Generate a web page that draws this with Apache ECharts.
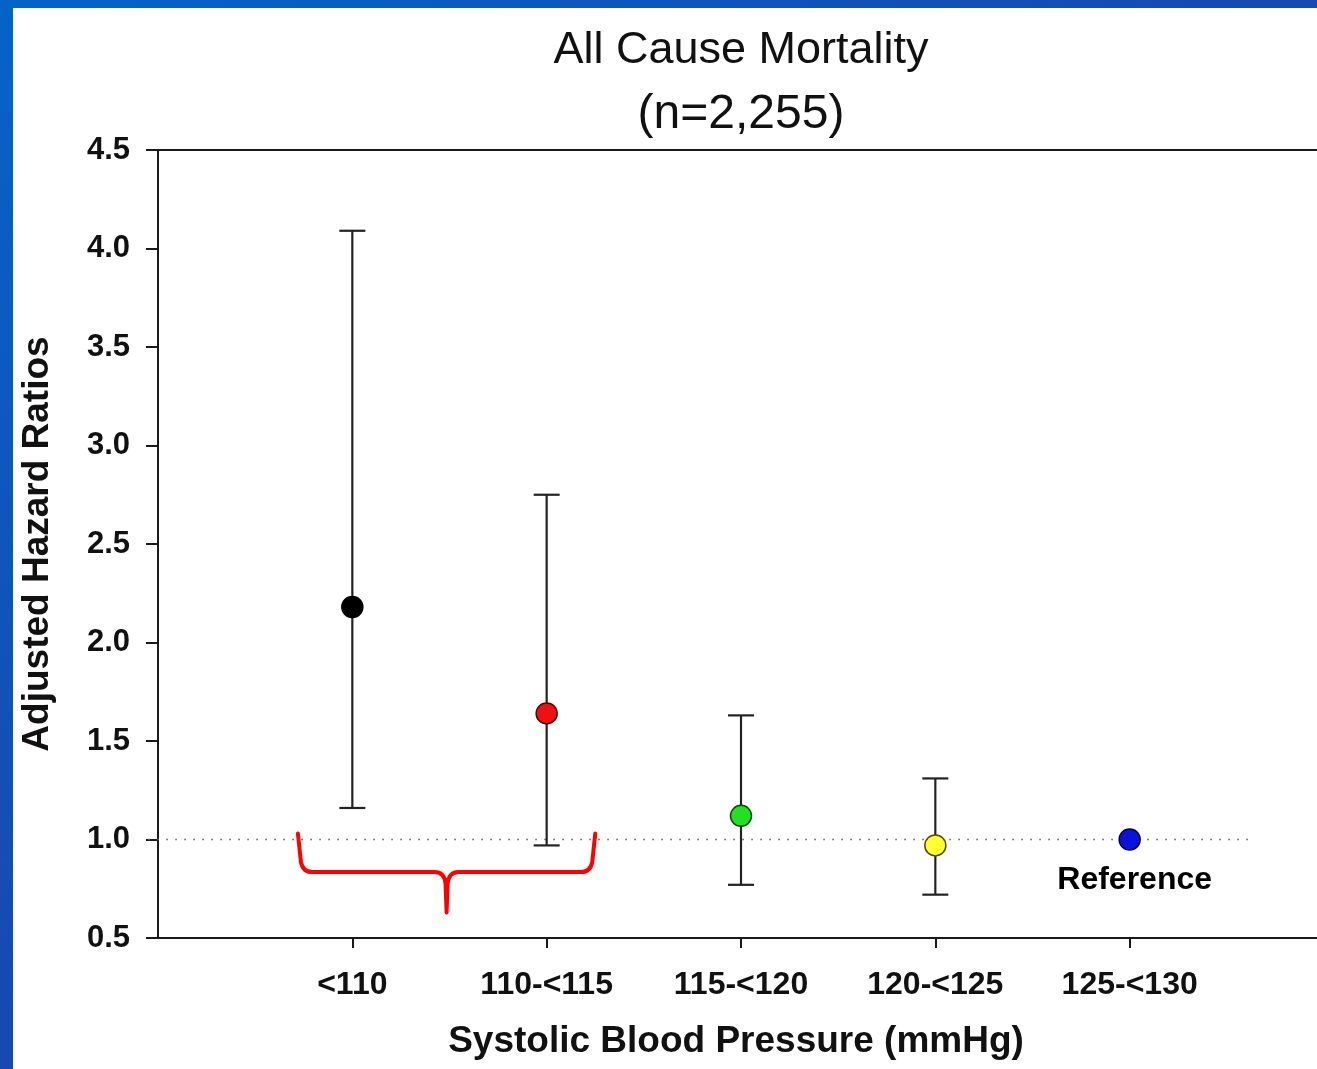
<!DOCTYPE html>
<html>
<head>
<meta charset="utf-8">
<title>All Cause Mortality</title>
<script src="https://cdn.jsdelivr.net/npm/echarts@6/dist/echarts.min.js"></script>
<style>
  html, body { margin: 0; padding: 0; background: #fff; }
  #chart { width: 1317px; height: 1069px; }
</style>
</head>
<body>
<div id="chart"></div>
<script>
// SBP categories and adjusted hazard ratios with 95% CI
const categories = ['<110', '110-<115', '115-<120', '120-<125', '125-<130'];
const hazardRatio = [2.18, 1.64, 1.12, 0.97, 1.0];
const ciLower = [1.16, 0.97, 0.77, 0.72, null];
const ciUpper = [4.09, 2.75, 1.63, 1.31, null];
const pointColors = ['#000000', '#ee1111', '#22e022', '#ffff33', '#0a14d8'];
const pointBorders = ['#000000', '#5a0000', '#0b4d0b', '#4d4d00', '#000050'];
const yTicks = [0.5, 1.0, 1.5, 2.0, 2.5, 3.0, 3.5, 4.0, 4.5];
const referenceLevel = 1.0;
const referenceIndex = 4;
// dotted HR = 1 line, x extent in axis units
const refLineSpan = [-0.05, 5.64];
// brace grouping the two lowest SBP categories (x from/to, y top/bar/tip in axis units)
const braceSpan = [0.72, 2.25];
const braceLevels = [1.03, 0.835, 0.63];

const FONT = "'Liberation Sans', Arial, Helvetica, sans-serif";
const INK = '#1a1a1a';

const positions = categories.map((_, i) => i + 1);

const pointData = hazardRatio.map((v, i) => {
  const item = {
    value: [positions[i], v],
    itemStyle: { color: pointColors[i], borderColor: pointBorders[i], borderWidth: 1.5, opacity: 1 }
  };
  if (i === referenceIndex) {
    item.label = {
      show: true,
      position: 'bottom',
      distance: 13,
      offset: [5, 0],
      formatter: 'Reference',
      fontFamily: FONT,
      fontWeight: 'bold',
      fontSize: 32,
      color: '#000'
    };
  }
  return item;
});

const ciData = [];
hazardRatio.forEach((_, i) => {
  if (ciLower[i] != null && ciUpper[i] != null) {
    ciData.push([positions[i], ciLower[i], ciUpper[i]]);
  }
});

const chart = echarts.init(document.getElementById('chart'));

const option = {
  backgroundColor: '#ffffff',
  animation: false,
  title: [
    {
      text: 'All Cause Mortality',
      left: 736, top: 23, textAlign: 'center',
      textStyle: { fontFamily: FONT, fontWeight: 'normal', fontSize: 45, color: '#111' }
    },
    {
      text: '(n=2,255)',
      left: 736, top: 86, textAlign: 'center',
      textStyle: { fontFamily: FONT, fontWeight: 'normal', fontSize: 48, color: '#111' }
    }
  ],
  grid: {
    left: 158, top: 150, width: 1166, height: 788,
    outerBoundsMode: 'none',
    containLabel: false,
    show: true, borderColor: INK, borderWidth: 2, backgroundColor: 'transparent'
  },
  xAxis: {
    type: 'value',
    min: 0, max: 6, interval: 1,
    name: 'Systolic Blood Pressure (mmHg)',
    nameLocation: 'middle',
    nameGap: 85,
    nameTextStyle: { fontFamily: FONT, fontWeight: 'bold', fontSize: 37, color: '#111', padding: [0, 10, 0, 0] },
    axisLine: { show: true, lineStyle: { color: INK, width: 2 } },
    axisTick: { show: true, inside: false, length: 10, lineStyle: { color: INK, width: 2 }, customValues: positions },
    axisLabel: {
      customValues: positions,
      margin: 31,
      formatter: v => categories[Math.round(v) - 1] || '',
      fontFamily: FONT, fontWeight: 'bold', fontSize: 32, color: '#111'
    },
    splitLine: { show: false }
  },
  yAxis: {
    type: 'value',
    min: 0.5, max: 4.5, interval: 0.5,
    name: 'Adjusted Hazard Ratios',
    nameLocation: 'middle',
    nameGap: 102,
    nameTextStyle: { fontFamily: FONT, fontWeight: 'bold', fontSize: 37, color: '#111' },
    axisLine: { show: true, lineStyle: { color: INK, width: 2 } },
    axisTick: { show: true, inside: false, length: 12, lineStyle: { color: INK, width: 2 }, customValues: yTicks },
    axisLabel: {
      customValues: yTicks,
      margin: 28,
      padding: [4, 0, 0, 0],
      formatter: v => Number(v).toFixed(1),
      fontFamily: FONT, fontWeight: 'bold', fontSize: 31, color: '#111'
    },
    splitLine: { show: false }
  },
  series: [
    {
      name: 'HR = 1',
      type: 'custom',
      z: 1,
      clip: false,
      silent: true,
      encode: { x: [0, 1], y: 2 },
      data: [[refLineSpan[0], refLineSpan[1], referenceLevel]],
      renderItem: function (params, api) {
        const a = api.coord([api.value(0), api.value(2)]);
        const b = api.coord([api.value(1), api.value(2)]);
        return {
          type: 'line',
          shape: { x1: a[0], y1: a[1], x2: b[0], y2: b[1] },
          style: { stroke: '#666', lineWidth: 1.6, lineDash: [1.6, 7.4] }
        };
      }
    },
    {
      name: 'CI',
      type: 'custom',
      z: 2,
      clip: false,
      data: ciData,
      renderItem: function (params, api) {
        const x = api.value(0);
        const top = api.coord([x, api.value(2)]);
        const bot = api.coord([x, api.value(1)]);
        const cap = 13;
        const style = { stroke: '#222', lineWidth: 2.2 };
        return {
          type: 'group',
          children: [
            { type: 'line', shape: { x1: top[0], y1: top[1], x2: bot[0], y2: bot[1] }, style: style },
            { type: 'line', shape: { x1: top[0] - cap, y1: top[1], x2: top[0] + cap, y2: top[1] }, style: style },
            { type: 'line', shape: { x1: bot[0] - cap, y1: bot[1], x2: bot[0] + cap, y2: bot[1] }, style: style }
          ]
        };
      }
    },
    {
      name: 'Brace',
      type: 'custom',
      z: 3,
      clip: false,
      silent: true,
      encode: { x: [0, 1], y: [2, 3, 4] },
      data: [[braceSpan[0], braceSpan[1], braceLevels[0], braceLevels[1], braceLevels[2]]],
      renderItem: function (params, api) {
        const from = api.value(0), to = api.value(1);
        const mid = (from + to) / 2;
        const pL = api.coord([from, api.value(2)]);
        const pR = api.coord([to, api.value(2)]);
        const pM = api.coord([mid, api.value(3)]);
        const pT = api.coord([mid, api.value(4)]);
        const xl = pL[0], xr = pR[0], yt = pL[1], ym = pM[1], xm = pM[0], ytip = pT[1];
        const d = [
          'M', xl, yt,
          'L', xl + 3, ym - 10,
          'Q', xl + 5, ym, xl + 14, ym,
          'L', xm - 12, ym,
          'Q', xm - 2, ym, xm - 1, ym + 12,
          'L', xm, ytip,
          'M', xm, ytip,
          'L', xm + 1, ym + 12,
          'Q', xm + 2, ym, xm + 12, ym,
          'L', xr - 14, ym,
          'Q', xr - 5, ym, xr - 3, ym - 10,
          'L', xr, yt
        ].join(' ');
        return {
          type: 'path',
          shape: { pathData: d },
          style: { fill: null, stroke: '#ff0000', lineWidth: 4, lineCap: 'round', lineJoin: 'round' }
        };
      }
    },
    {
      name: 'HR',
      type: 'scatter',
      z: 5,
      symbol: 'circle',
      symbolSize: 21,
      clip: false,
      data: pointData
    }
  ],
  graphic: [
    {
      type: 'rect', z: 100,
      shape: { x: 0, y: 0, width: 1317, height: 8 },
      style: { fill: new echarts.graphic.LinearGradient(0, 0, 1, 0, [
        { offset: 0, color: '#0563c8' }, { offset: 1, color: '#1848b0' }]) }
    },
    {
      type: 'rect', z: 100,
      shape: { x: 0, y: 0, width: 13, height: 1069 },
      style: { fill: new echarts.graphic.LinearGradient(0, 0, 0, 1, [
        { offset: 0, color: '#0563c8' }, { offset: 1, color: '#1848b0' }]) }
    }
  ]
};

chart.setOption(option);
</script>
</body>
</html>
